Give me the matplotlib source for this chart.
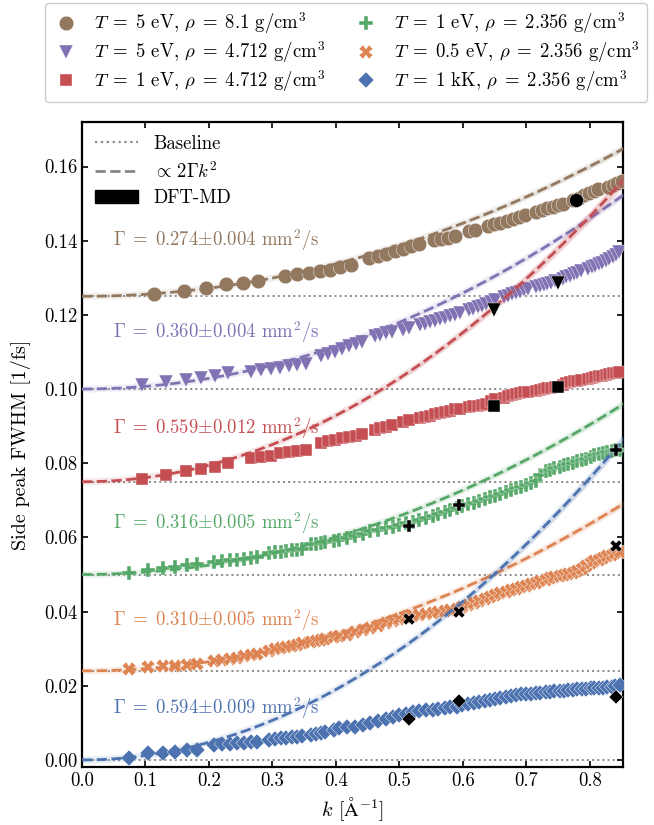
import matplotlib
matplotlib.use('Agg')
import matplotlib.pyplot as plt
from matplotlib.lines import Line2D
from matplotlib.patches import Patch
import numpy as np

plt.rcParams.update({
    'font.family': ['cmr10', 'DejaVu Serif'], 'mathtext.fontset': 'cm',
    'axes.formatter.use_mathtext': True, 'axes.unicode_minus': False,
    'font.size': 13, 'axes.linewidth': 1.6,
    'xtick.direction': 'in', 'ytick.direction': 'in',
    'xtick.top': True, 'ytick.right': True,
    'xtick.major.size': 4.5, 'ytick.major.size': 4.5,
    'xtick.major.width': 1.2, 'ytick.major.width': 1.2,
    'xtick.labelsize': 13.5, 'ytick.labelsize': 13.5,
})

BROWN, PURPLE, RED, GREEN, ORANGE, BLUE = '#937860', '#8172B3', '#C44E52', '#55A868', '#DD8452', '#4C72B0'

# allowed k of the three box sizes [1/Angstrom]
k_81 = [0.113, 0.160, 0.196, 0.226, 0.253, 0.277, 0.320, 0.339, 0.357, 0.375, 0.391, 0.407, 0.423,
        0.452, 0.466, 0.479, 0.493, 0.505, 0.518, 0.530, 0.554, 0.565, 0.576, 0.587, 0.609, 0.619,
        0.639, 0.649, 0.659, 0.669, 0.678, 0.688, 0.697, 0.715, 0.724, 0.733, 0.741, 0.750, 0.758,
        0.774, 0.782, 0.790, 0.798, 0.806, 0.813, 0.828, 0.836, 0.843, 0.850]
k_47 = [0.094, 0.133, 0.163, 0.188, 0.210, 0.230, 0.266, 0.282, 0.297, 0.312, 0.326, 0.339, 0.352,
        0.376, 0.388, 0.399, 0.410, 0.420, 0.431, 0.441, 0.461, 0.470, 0.479, 0.488, 0.506, 0.515,
        0.532, 0.540, 0.548, 0.556, 0.564, 0.572, 0.580, 0.587, 0.595, 0.609, 0.616, 0.623, 0.630,
        0.637, 0.644, 0.651, 0.664, 0.671, 0.677, 0.684, 0.690, 0.696, 0.703, 0.715, 0.721, 0.727,
        0.733, 0.739, 0.745, 0.757, 0.763, 0.769, 0.775, 0.780, 0.786, 0.797, 0.803, 0.808, 0.814,
        0.819, 0.825, 0.830, 0.836, 0.841, 0.846]
k_24 = [0.074, 0.104, 0.128, 0.147, 0.165, 0.181, 0.208, 0.221, 0.233, 0.244, 0.255, 0.266, 0.276,
        0.295, 0.304, 0.313, 0.321, 0.330, 0.338, 0.346, 0.361, 0.369, 0.376, 0.383, 0.397, 0.404,
        0.417, 0.430, 0.442, 0.454, 0.466, 0.478, 0.489, 0.500, 0.511, 0.521, 0.531, 0.542, 0.552,
        0.561, 0.571, 0.580, 0.590, 0.599, 0.608, 0.617, 0.625, 0.634, 0.643, 0.651, 0.659, 0.667,
        0.675, 0.683, 0.691, 0.699, 0.707, 0.715, 0.722, 0.730, 0.737, 0.744, 0.752, 0.759, 0.766,
        0.773, 0.780, 0.787, 0.794, 0.801, 0.807, 0.814, 0.821, 0.827, 0.834, 0.840, 0.847]

# side peak FWHM [1/fs]
fwhm_5eV_81 = [0.1257, 0.1264, 0.1273, 0.1282, 0.1287, 0.1291, 0.1306, 0.1310, 0.1314, 0.1318, 0.1322,
               0.1328, 0.1334, 0.1352, 0.1358, 0.1364, 0.1372, 0.1378, 0.1386, 0.1390, 0.1402, 0.1405,
               0.1408, 0.1412, 0.1425, 0.1430, 0.1440, 0.1444, 0.1448, 0.1453, 0.1458, 0.1463, 0.1468,
               0.1478, 0.1483, 0.1488, 0.1492, 0.1496, 0.1500, 0.1510, 0.1516, 0.1522, 0.1528, 0.1534,
               0.1540, 0.1546, 0.1550, 0.1556, 0.1562]
fwhm_5eV_47 = [0.1012, 0.1020, 0.1025, 0.1030, 0.1034, 0.1043, 0.1047, 0.1051, 0.1054, 0.1058, 0.1061,
               0.1064, 0.1068, 0.1090, 0.1094, 0.1100, 0.1108, 0.1115, 0.1122, 0.1128, 0.1142, 0.1146,
               0.1150, 0.1155, 0.1160, 0.1165, 0.1172, 0.1176, 0.1180, 0.1184, 0.1188, 0.1192, 0.1196,
               0.1200, 0.1205, 0.1212, 0.1216, 0.1220, 0.1225, 0.1230, 0.1236, 0.1240, 0.1247, 0.1251,
               0.1255, 0.1259, 0.1263, 0.1267, 0.1270, 0.1274, 0.1277, 0.1281, 0.1284, 0.1287, 0.1290,
               0.1297, 0.1302, 0.1306, 0.1310, 0.1314, 0.1318, 0.1325, 0.1329, 0.1333, 0.1337, 0.1341,
               0.1345, 0.1350, 0.1356, 0.1362, 0.1370]
fwhm_1eV_47 = [0.0757, 0.0769, 0.0778, 0.0784, 0.0791, 0.0800, 0.0813, 0.0816, 0.0820, 0.0828, 0.0831,
               0.0834, 0.0837, 0.0855, 0.0859, 0.0863, 0.0868, 0.0871, 0.0874, 0.0878, 0.0890, 0.0894,
               0.0898, 0.0902, 0.0910, 0.0916, 0.0922, 0.0925, 0.0928, 0.0932, 0.0936, 0.0939, 0.0942,
               0.0945, 0.0947, 0.0951, 0.0953, 0.0955, 0.0957, 0.0959, 0.0968, 0.0972, 0.0976, 0.0980,
               0.0983, 0.0986, 0.0989, 0.0991, 0.0993, 0.0996, 0.0998, 0.1000, 0.1002, 0.1004, 0.1006,
               0.1012, 0.1015, 0.1018, 0.1021, 0.1023, 0.1025, 0.1028, 0.1030, 0.1032, 0.1034, 0.1036,
               0.1038, 0.1040, 0.1042, 0.1044, 0.1046]
fwhm_1eV_24 = [0.0504, 0.0513, 0.0518, 0.0521, 0.0525, 0.0528, 0.0533, 0.0536, 0.0538, 0.0540, 0.0542,
               0.0544, 0.0547, 0.0558, 0.0560, 0.0562, 0.0563, 0.0566, 0.0567, 0.0570, 0.0581, 0.0583,
               0.0585, 0.0588, 0.0591, 0.0594, 0.0598, 0.0604, 0.0610, 0.0616, 0.0620, 0.0625, 0.0629,
               0.0634, 0.0638, 0.0642, 0.0647, 0.0652, 0.0657, 0.0663, 0.0668, 0.0673, 0.0679, 0.0685,
               0.0690, 0.0694, 0.0698, 0.0703, 0.0708, 0.0712, 0.0717, 0.0722, 0.0727, 0.0732, 0.0737,
               0.0742, 0.0747, 0.0752, 0.0768, 0.0780, 0.0782, 0.0786, 0.0790, 0.0795, 0.0798, 0.0801,
               0.0805, 0.0808, 0.0812, 0.0817, 0.0821, 0.0825, 0.0828, 0.0831, 0.0833, 0.0835, 0.0837]
fwhm_05eV_24 = [0.0245, 0.0250, 0.0252, 0.0253, 0.0257, 0.0260, 0.0266, 0.0270, 0.0272, 0.0275, 0.0279,
                0.0283, 0.0287, 0.0295, 0.0299, 0.0302, 0.0305, 0.0308, 0.0311, 0.0314, 0.0319, 0.0322,
                0.0324, 0.0327, 0.0331, 0.0333, 0.0338, 0.0344, 0.0350, 0.0356, 0.0362, 0.0368, 0.0374,
                0.0380, 0.0385, 0.0389, 0.0392, 0.0394, 0.0396, 0.0399, 0.0402, 0.0405, 0.0408, 0.0412,
                0.0417, 0.0423, 0.0428, 0.0434, 0.0440, 0.0445, 0.0450, 0.0454, 0.0458, 0.0462, 0.0466,
                0.0470, 0.0474, 0.0478, 0.0482, 0.0486, 0.0490, 0.0493, 0.0496, 0.0499, 0.0502, 0.0505,
                0.0510, 0.0516, 0.0522, 0.0530, 0.0536, 0.0540, 0.0545, 0.0549, 0.0553, 0.0557, 0.0562]
fwhm_1kK_24 = [0.0005, 0.0020, 0.0018, 0.0021, 0.0026, 0.0028, 0.0040, 0.0042, 0.0044, 0.0045, 0.0047,
               0.0048, 0.0049, 0.0055, 0.0057, 0.0058, 0.0060, 0.0061, 0.0062, 0.0064, 0.0066, 0.0070,
               0.0072, 0.0075, 0.0080, 0.0085, 0.0088, 0.0090, 0.0093, 0.0099, 0.0105, 0.0110, 0.0115,
               0.0120, 0.0125, 0.0128, 0.0131, 0.0134, 0.0136, 0.0138, 0.0140, 0.0143, 0.0144, 0.0148,
               0.0150, 0.0153, 0.0156, 0.0159, 0.0162, 0.0165, 0.0168, 0.0171, 0.0173, 0.0175, 0.0177,
               0.0178, 0.0179, 0.0180, 0.0181, 0.0183, 0.0184, 0.0185, 0.0186, 0.0187, 0.0188, 0.0189,
               0.0190, 0.0191, 0.0192, 0.0193, 0.0193, 0.0194, 0.0195, 0.0196, 0.0198, 0.0200, 0.0203]

# DFT-MD reference points
dft_k_5eV_81, dft_w_5eV_81 = [0.7775], [0.1509]
dft_k_5eV_47, dft_w_5eV_47 = [0.649, 0.750], [0.1212, 0.1287]
dft_k_1eV_47, dft_w_1eV_47 = [0.649, 0.749], [0.0955, 0.1006]
dft_k_1eV_24, dft_w_1eV_24 = [0.515, 0.594, 0.841], [0.0632, 0.0688, 0.0835]
dft_k_05eV_24, dft_w_05eV_24 = [0.515, 0.594, 0.841], [0.0380, 0.0400, 0.0576]
dft_k_1kK_24, dft_w_1kK_24 = [0.515, 0.594, 0.841], [0.0111, 0.0160, 0.0170]

labels = [r'$T\;=\;5$ eV, $\rho\;=\;8.1$ g/cm$^3$', r'$T\;=\;5$ eV, $\rho\;=\;4.712$ g/cm$^3$',
          r'$T\;=\;1$ eV, $\rho\;=\;4.712$ g/cm$^3$', r'$T\;=\;1$ eV, $\rho\;=\;2.356$ g/cm$^3$',
          r'$T\;=\;0.5$ eV, $\rho\;=\;2.356$ g/cm$^3$', r'$T\;=\;1$ kK, $\rho\;=\;2.356$ g/cm$^3$']
colors = [BROWN, PURPLE, RED, GREEN, ORANGE, BLUE]
markers = ['o', 'v', 's', 'P', 'X', 'D']
msizes = [10.5, 10.5, 9, 9.5, 9.5, 8]
baselines = [0.125, 0.100, 0.075, 0.050, 0.024, 0.000]
gamma = [0.274, 0.360, 0.559, 0.316, 0.310, 0.594]       # mm^2/s
gamma_err = [0.004, 0.004, 0.012, 0.005, 0.005, 0.009]
text_y = [0.1403, 0.1155, 0.0896, 0.0640, 0.0378, 0.0140]

ks = [k_81, k_47, k_47, k_24, k_24, k_24]
ws = [fwhm_5eV_81, fwhm_5eV_47, fwhm_1eV_47, fwhm_1eV_24, fwhm_05eV_24, fwhm_1kK_24]
dft_ks = [dft_k_5eV_81, dft_k_5eV_47, dft_k_1eV_47, dft_k_1eV_24, dft_k_05eV_24, dft_k_1kK_24]
dft_ws = [dft_w_5eV_81, dft_w_5eV_47, dft_w_1eV_47, dft_w_1eV_24, dft_w_05eV_24, dft_w_1kK_24]

fig = plt.figure(figsize=(6.54, 8.25), dpi=100)
ax = fig.add_axes([82/654, 1 - 767/825, 541/654, 645/825])

kk = np.linspace(0, 0.87, 300)
for i in range(6):
    b = baselines[i]
    ax.axhline(b, color='#888888', ls=':', lw=1.4, zorder=1)
    ax.plot(ks[i], ws[i], ls='none', marker=markers[i], ms=msizes[i], color=colors[i],
            mec='white', mew=0.3, zorder=3)
    # 2*Gamma*k^2, Gamma converted from mm^2/s to A^2/fs
    fit = b + 2 * gamma[i] * 0.1 * kk**2
    lo = b + 2 * (gamma[i] - gamma_err[i]) * 0.1 * kk**2
    hi = b + 2 * (gamma[i] + gamma_err[i]) * 0.1 * kk**2
    ax.fill_between(kk, lo, hi, color=colors[i], alpha=0.15, lw=0, zorder=4)
    ax.plot(kk, fit, color=colors[i], lw=5, alpha=0.12, solid_capstyle='butt', zorder=4)
    ax.plot(kk, fit, color=colors[i], ls='--', lw=2, zorder=4)
    ax.text(0.049, text_y[i], r'$\Gamma\;=\;%.3f{\pm}%.3f$ mm$^2$/s' % (gamma[i], gamma_err[i]),
            color=colors[i], fontsize=13.5, va='center', ha='left', zorder=5)

for i in range(6):
    ax.plot(dft_ks[i], dft_ws[i], ls='none', marker=markers[i], ms=msizes[i] - 0.5, color='black',
            mec='white', mew=0.3, zorder=6)

ax.set_xlim(0, 0.852)
ax.set_ylim(-0.0019, 0.172)
ax.set_xticks(np.arange(0, 0.81, 0.1))
ax.set_yticks(np.arange(0, 0.161, 0.02))
ax.xaxis.set_major_formatter(matplotlib.ticker.FormatStrFormatter('%.1f'))
ax.yaxis.set_major_formatter(matplotlib.ticker.FormatStrFormatter('%.2f'))
ax.set_xlabel(r'$k$ [$\mathrm{\AA}^{-1}$]', fontsize=14.5)
ax.set_ylabel('Side peak FWHM [1/fs]', fontsize=14.5, labelpad=9)

style_handles = [Line2D([], [], color='#888888', ls=':', lw=1.6),
                 Line2D([], [], color='#888888', ls='--', lw=2),
                 Patch(facecolor='black', edgecolor='black')]
ax.legend(style_handles, ['Baseline', r'$\propto\,2\Gamma k^2$', 'DFT-MD'], loc='upper left',
          frameon=False, fontsize=13.5, handlelength=2.3, borderaxespad=0.3, labelspacing=0.4)

series_handles = [Line2D([], [], ls='none', marker=markers[i], ms=msizes[i], color=colors[i],
                         mec='white', mew=0.3) for i in range(6)]
fig.legend(series_handles, labels, loc='upper left', bbox_to_anchor=(45/654, 1 - 3/825),
           ncol=2, fontsize=13.5, handlelength=1.4, handletextpad=0.8, columnspacing=1.5,
           labelspacing=0.15, borderaxespad=0, fancybox=True, edgecolor='#cccccc', framealpha=1)

fig.savefig('out.png', dpi=100)
